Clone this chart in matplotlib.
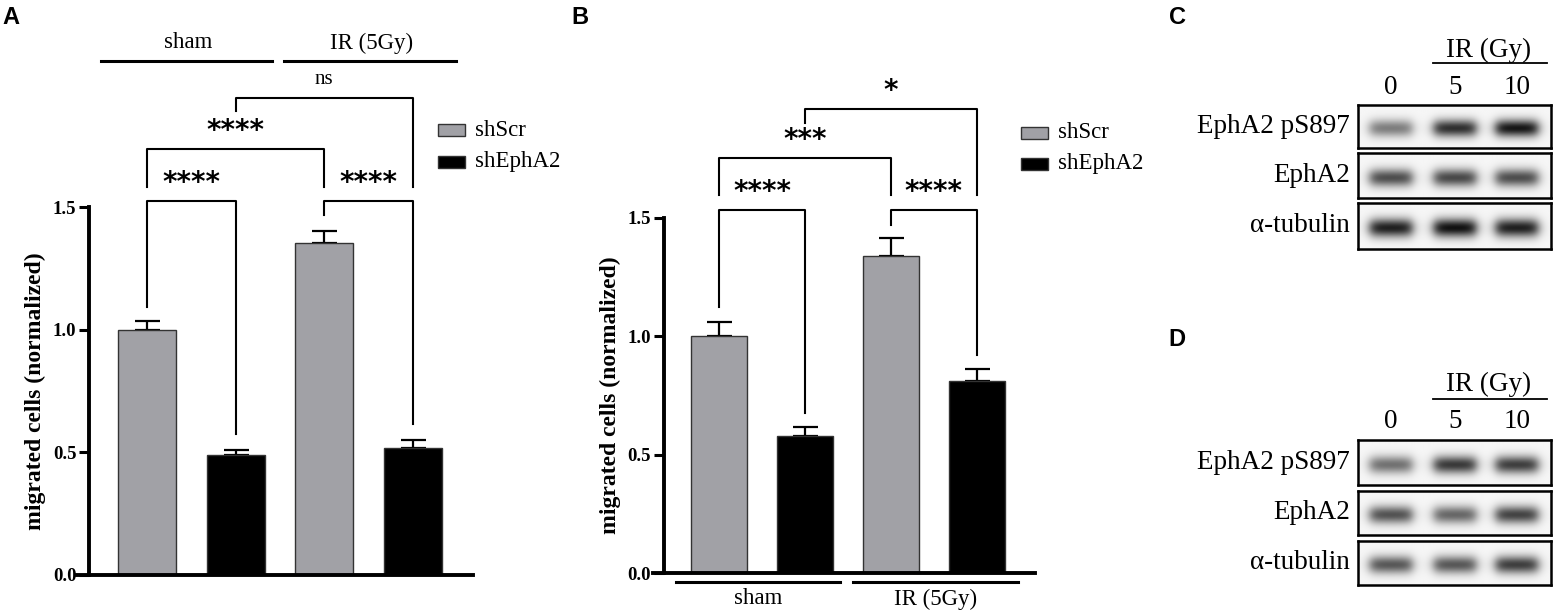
import numpy as np
import matplotlib
matplotlib.use('Agg')
import matplotlib.pyplot as plt
from matplotlib.patches import Rectangle

plt.rcParams['font.family'] = ['Liberation Serif', 'DejaVu Serif']

# ---- data ----
groups = ['sham', 'IR (5Gy)']
series = ['shScr', 'shEphA2']

a_means = [1.00, 0.487, 1.353, 0.519]
a_errs = [0.034, 0.024, 0.051, 0.032]
b_means = [1.00, 0.579, 1.338, 0.810]
b_errs = [0.061, 0.036, 0.078, 0.053]

# comparisons: (bar i, bar j, label)
a_comps = [(0, 1, '****'), (2, 3, '****'), (0, 2, '****'), (1, 3, 'ns')]
b_comps = [(0, 1, '****'), (2, 3, '****'), (0, 2, '***'), (1, 3, '*')]

lanes = ['0', '5', '10']
proteins = ['EphA2 pS897', 'EphA2', 'α-tubulin']
# band darkness read by eye, rows = proteins, cols = lanes
c_bands = [[0.47, 0.78, 0.88],
           [0.66, 0.68, 0.66],
           [0.84, 0.90, 0.84]]
d_bands = [[0.52, 0.74, 0.72],
           [0.64, 0.56, 0.70],
           [0.62, 0.62, 0.72]]

GRAY = '#a1a1a6'
W, H = 1555, 613
fig = plt.figure(figsize=(W / 100, H / 100), dpi=100)


def px_axes(x0, y0, x1, y1):
    return fig.add_axes([x0 / W, 1 - y1 / H, (x1 - x0) / W, (y1 - y0) / H])


ov = fig.add_axes([0, 0, 1, 1])
ov.set_xlim(0, W)
ov.set_ylim(H, 0)
ov.axis('off')


def bar_panel(ax, means, errs, comps, brackets, spine_off):
    x = np.arange(len(means))
    cols = [GRAY, 'black', GRAY, 'black']
    # spines first: set_position resets the ticks
    for s in ['top', 'right']:
        ax.spines[s].set_visible(False)
    ax.spines['left'].set_position(('axes', spine_off))
    ax.spines['left'].set_bounds(0, 1.5)
    ax.spines['left'].set_linewidth(2.8)
    ax.spines['bottom'].set_linewidth(2.8)
    ax.errorbar(x, means, yerr=[np.zeros(len(errs)), errs], fmt='none',
                ecolor='black', elinewidth=1.6, capsize=9, capthick=1.6, zorder=1)
    ax.bar(x, means, width=0.655, color=cols, edgecolor='#333333', linewidth=1, zorder=2)
    ax.set_ylim(0, 1.5)
    ax.set_yticks([0, 0.5, 1.0, 1.5])
    ax.set_yticklabels(['0.0', '0.5', '1.0', '1.5'])
    ax.set_xticks([])
    ax.tick_params(axis='y', length=7, width=2.2, pad=2, labelsize=13.5)
    for t in ax.get_yticklabels():
        t.set_fontweight('bold')
    ax.patch.set_visible(False)
    for (i, j, lab), (y, yl, yr) in zip(comps, brackets):
        ax.plot([i, i, j, j], [yl, y, y, yr], color='black', lw=1.5, clip_on=False)
        if lab == 'ns':
            kw = dict(fontsize=15)
        else:
            kw = dict(fontsize=20, fontweight='bold', family='DejaVu Sans')
        ax.annotate(lab, xy=((i + j) / 2, y), xytext=(0, 13), textcoords='offset points',
                    ha='center', va='center', annotation_clip=False, **kw)


def legend(x0, ys):
    for y, c, lab in zip(ys, [GRAY, 'black'], series):
        ov.add_patch(Rectangle((x0, y - 6), 27, 12, facecolor=c, edgecolor='#333333', lw=1))
        ov.text(x0 + 37, y, lab, fontsize=16.5, va='center', ha='left')


# ---- panel A ----
axA = px_axes(76.8, 207.2, 473, 574.8)
axA.set_xlim(-0.796, 3.68)
bar_panel(axA, a_means, a_errs, a_comps,
          [(1.524, 1.093, 0.575), (1.524, 1.468, 0.614),
           (1.736, 1.583, 1.583), (1.947, 1.891, 1.583)], 12.2 / 396.2)
axA.set_ylabel('migrated cells (normalized)', fontsize=17, fontweight='bold', labelpad=5)
for (x0, x1), lab in zip([(101, 272), (284, 456)], groups):
    ov.plot([x0, x1], [60.6, 60.6], color='black', lw=2.2)
    ov.text((x0 + x1) / 2 + 2, 43, lab, fontsize=16.5, ha='center', va='center')
legend(437.5, [130, 161.5])

# ---- panel B ----
axB = px_axes(652.9, 217.7, 1035, 573.2)
axB.set_xlim(-0.774, 3.68)
bar_panel(axB, b_means, b_errs, b_comps,
          [(1.531, 1.124, 0.678), (1.531, 1.47, 0.921),
           (1.751, 1.594, 1.594), (1.96, 1.899, 1.594)], 10.7 / 382.1)
axB.set_ylabel('migrated cells (normalized)', fontsize=17, fontweight='bold', labelpad=5)
for (x0, x1), lab in zip([(676, 840), (853, 1018)], groups):
    ov.plot([x0, x1], [581.7, 581.7], color='black', lw=2.2)
    ov.text((x0 + x1) / 2, 599, lab, fontsize=16.5, ha='center', va='center')
legend(1020.7, [133, 164])


# ---- panels C, D (blots) ----
lane_pos = [0.171, 0.503, 0.824]


def blot(rows_y, bands, lab_y, ir_y, line_y):
    xs = np.linspace(0, 1, 400)
    ys = np.linspace(0, 1, 90)
    X, Y = np.meshgrid(xs, ys)
    for (y0, y1), lv, name in zip(rows_y, bands, proteins):
        ax = px_axes(1358, y0, 1551, y1)
        img = np.full(X.shape, 0.965)
        for c, d in zip(lane_pos, lv):
            horiz = 1 / (1 + np.exp((np.abs(X - c) - 0.11) / 0.016))
            vert = np.exp(-0.5 * ((Y - 0.55) / 0.14) ** 2)
            img = img - d * horiz * vert
        ax.imshow(img, cmap='gray', vmin=0, vmax=1, extent=(0, 1, 0, 1),
                  aspect='auto', interpolation='bilinear')
        ax.set_xticks([])
        ax.set_yticks([])
        for s in ax.spines.values():
            s.set_linewidth(1.8)
        ov.text(1350, (y0 + y1) / 2, name, fontsize=19.5, ha='right', va='center')
    for c, lab in zip(lane_pos, lanes):
        ov.text(1358 + c * 193, lab_y, lab, fontsize=19.5, ha='center', va='center')
    ov.plot([1433, 1547], [line_y, line_y], color='black', lw=1.3)
    ov.text(1489, ir_y, 'IR (Gy)', fontsize=19.5, ha='center', va='center')


blot([(104.5, 147.8), (153.2, 198.2), (202.5, 248.6)], c_bands, 88, 50, 62.7)
blot([(439.8, 484.8), (490.6, 534.8), (540.7, 585.2)], d_bands, 421, 384, 398.7)

# panel letters
for x, y, l in [(11, 18, 'A'), (580, 18, 'B'), (1177, 18, 'C'), (1177, 340, 'D')]:
    ov.text(x, y, l, fontsize=17, fontweight='bold', family='Liberation Sans',
            ha='center', va='center')

fig.savefig('out.png', dpi=100)
